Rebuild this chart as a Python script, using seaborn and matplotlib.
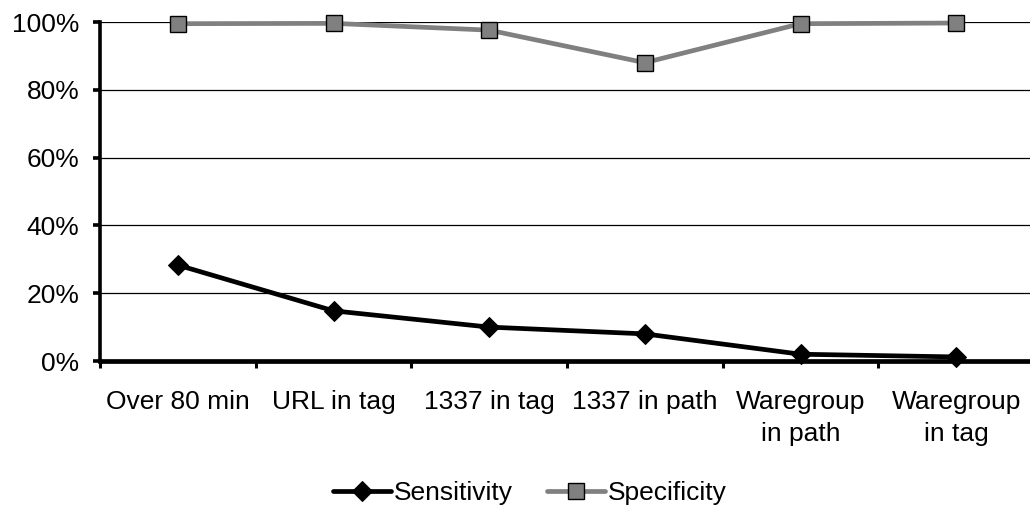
import matplotlib
matplotlib.use("Agg")
import matplotlib.pyplot as plt
import seaborn as sns
import numpy as np
from matplotlib.ticker import FixedLocator, PercentFormatter

categories = ["Over 80 min", "URL in tag", "1337 in tag", "1337 in path",
              "Waregroup\nin path", "Waregroup\nin tag"]
sensitivity = [28.3, 14.8, 10.0, 8.0, 2.0, 1.2]
specificity = [99.5, 99.6, 97.6, 88.0, 99.5, 99.7]
yticks = [0, 20, 40, 60, 80, 100]

sns.set_theme(style="white")
plt.rcParams['font.family'] = ['Liberation Sans', 'DejaVu Sans']

fig = plt.figure(figsize=(10.30, 5.11), dpi=100)
ax = fig.add_axes([100/1030, (511-361)/511, 934/1030, 339/511])

x = np.arange(len(categories))
for yv in yticks[1:]:
    ax.axhline(yv, color="black", lw=0.9, zorder=1)

sns.lineplot(x=x, y=sensitivity, ax=ax, color="black", lw=3.4, marker="D",
             markersize=10, markerfacecolor="black", markeredgecolor="black",
             label="Sensitivity", zorder=3, clip_on=False)
sns.lineplot(x=x, y=specificity, ax=ax, color="#808080", lw=3.4, marker="s",
             markersize=11, markerfacecolor="#808080", markeredgecolor="black",
             markeredgewidth=1.0, label="Specificity", zorder=3, clip_on=False)

ax.set_xlim(-0.5, len(categories) - 0.5)
ax.set_ylim(0, 100)
ax.set_xticks(x)
ax.set_xticklabels(categories, fontsize=19, linespacing=1.4)
ax.xaxis.set_minor_locator(FixedLocator(np.arange(len(categories) + 1) - 0.5))
ax.tick_params(axis="x", which="major", length=0, pad=21)
ax.tick_params(axis="x", which="minor", length=5, width=2.2, color="black", direction="out", bottom=True)
ax.set_yticks(yticks)
ax.yaxis.set_major_formatter(PercentFormatter(decimals=0))
ax.tick_params(axis="y", which="major", length=5, width=2.6, color="black",
               direction="out", left=True, labelsize=19, pad=10)
for lbl in ax.get_yticklabels() + ax.get_xticklabels():
    lbl.set_color("black")

for s in ["top", "right"]:
    ax.spines[s].set_visible(False)
ax.spines["left"].set_linewidth(2.6)
ax.spines["left"].set_color("black")
ax.spines["bottom"].set_linewidth(3.4)
ax.spines["bottom"].set_color("black")
ax.set_xlabel("")
ax.set_ylabel("")

leg = ax.legend(loc="center", bbox_to_anchor=(530/1030, (511-493)/511),
                bbox_transform=fig.transFigure, ncol=2, frameon=False,
                fontsize=19, handlelength=2.2, handletextpad=0.1, columnspacing=1.3)
for t in leg.get_texts():
    t.set_color("black")

fig.savefig("out.png", dpi=100)
